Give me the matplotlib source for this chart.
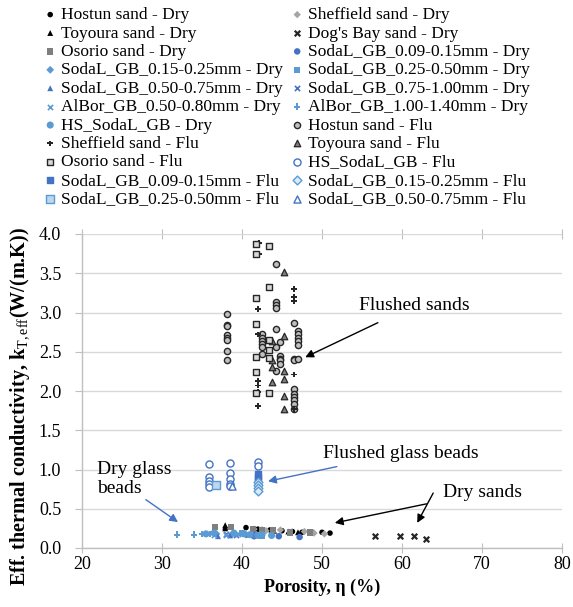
import matplotlib
matplotlib.use("Agg")
import matplotlib.pyplot as plt

plt.rcParams['font.family'] = ['Liberation Serif', 'DejaVu Serif']
plt.rcParams['mathtext.fontset'] = 'custom'
plt.rcParams['mathtext.rm'] = 'Liberation Serif'
plt.rcParams['mathtext.it'] = 'Liberation Serif:italic'
plt.rcParams['mathtext.bf'] = 'Liberation Serif:bold'

# ---------------- data ----------------
hostun_dry_x = [40.5, 42.0, 43.5, 45.0, 46.3, 47.5, 48.8, 50.0, 51.0]
hostun_dry_y = [0.26, 0.24, 0.23, 0.22, 0.21, 0.20, 0.20, 0.20, 0.19]
sheff_dry_x = [41.5, 43.0, 44.8, 47.8, 49.0, 50.3]
sheff_dry_y = [0.24, 0.22, 0.23, 0.21, 0.19, 0.18]
toyo_dry_x = [37.9, 37.9, 37.9, 42.5, 44.0, 45.8, 47.0]
toyo_dry_y = [0.29, 0.27, 0.25, 0.24, 0.22, 0.21, 0.20]
dogs_dry_x = [56.6, 59.7, 61.5, 63.0]
dogs_dry_y = [0.15, 0.15, 0.15, 0.11]
osorio_dry_x = [36.6, 38.6, 41.4, 42.5, 43.9, 46.0, 48.5]
osorio_dry_y = [0.27, 0.27, 0.24, 0.23, 0.23, 0.20, 0.20]
gb009_dry_x = [41.5, 44.6, 47.2]
gb009_dry_y = [0.15, 0.15, 0.14]
gb015_dry_x = [36.8, 38.8, 40.5, 42.3]
gb015_dry_y = [0.18, 0.18, 0.17, 0.16]
gb025_dry_x = [40.0, 41.8, 42.5]
gb025_dry_y = [0.19, 0.17, 0.16]
gb050_dry_x = [37.0, 38.5, 40.8]
gb050_dry_y = [0.15, 0.16, 0.17]
gb075_dry_x = [38.0, 39.3, 41.2]
gb075_dry_y = [0.18, 0.17, 0.18]
al050_dry_x = [36.5, 38.0, 39.5]
al050_dry_y = [0.17, 0.16, 0.18]
al100_dry_x = [31.9, 34.0, 35.0, 36.0]
al100_dry_y = [0.17, 0.17, 0.18, 0.18]
hs_dry_x = [35.5, 36.5, 39.0, 40.2, 41.0, 42.0, 42.5, 43.7]
hs_dry_y = [0.18, 0.19, 0.19, 0.18, 0.17, 0.16, 0.17, 0.16]

hostun_flu_x = [38.1]*8 + [44.3]*7 + [42.5]*6 + [44.75]*5 + [46.5]*9 + [47.0]*6
hostun_flu_y = [2.98, 2.84, 2.83, 2.71, 2.68, 2.65, 2.51, 2.40,
                3.62, 3.13, 3.10, 3.06, 2.79, 2.56, 2.26,
                2.73, 2.68, 2.64, 2.60, 2.56, 2.47,
                2.62, 2.44, 2.41, 2.39, 2.35,
                2.87, 2.41, 2.39, 2.02, 1.96, 1.92, 1.88, 1.84, 1.77,
                2.76, 2.73, 2.68, 2.64, 2.59, 2.41]
sheff_flu_x = [42.1, 42.1, 42.0, 42.0, 42.0, 42.0, 42.0, 42.0, 46.5, 46.5, 46.5, 46.5, 46.5]
sheff_flu_y = [3.88, 3.75, 3.04, 2.72, 2.13, 2.07, 1.99, 1.81, 3.30, 3.20, 3.15, 2.21, 1.77]
toyo_flu_x = [45.3, 45.3, 45.3, 45.3, 45.3, 45.3, 43.75, 43.75, 43.75, 43.75]
toyo_flu_y = [3.52, 2.70, 2.26, 2.15, 1.93, 1.77, 2.64, 2.40, 2.31, 2.11]
osorio_flu_x = [41.75]*7 + [43.4]*6
osorio_flu_y = [3.87, 3.74, 3.19, 2.85, 2.43, 2.24, 1.98,
                3.85, 3.33, 2.65, 2.52, 2.42, 1.98]
hs_flu_x = [35.9, 35.9, 35.9, 35.9, 35.9, 38.5, 38.5, 38.5, 38.5, 38.5, 42.0, 42.0]
hs_flu_y = [1.07, 0.90, 0.85, 0.81, 0.78, 1.08, 0.96, 0.88, 0.81, 0.79, 1.09, 1.05]
gb009_flu_x = [42.0, 42.0, 42.0]
gb009_flu_y = [0.94, 0.91, 0.87]
gb015_flu_x = [42.0, 42.0, 42.0, 42.0]
gb015_flu_y = [0.84, 0.80, 0.76, 0.73]
gb025_flu_x = [36.8]
gb025_flu_y = [0.80]
gb050_flu_x = [38.8]
gb050_flu_y = [0.79]

labels = ["Hostun sand - Dry", "Sheffield sand - Dry",
          "Toyoura sand - Dry", "Dog's Bay sand - Dry",
          "Osorio sand - Dry", "SodaL_GB_0.09-0.15mm - Dry",
          "SodaL_GB_0.15-0.25mm - Dry", "SodaL_GB_0.25-0.50mm - Dry",
          "SodaL_GB_0.50-0.75mm - Dry", "SodaL_GB_0.75-1.00mm - Dry",
          "AlBor_GB_0.50-0.80mm - Dry", "AlBor_GB_1.00-1.40mm - Dry",
          "HS_SodaL_GB - Dry", "Hostun sand - Flu",
          "Sheffield sand - Flu", "Toyoura sand - Flu",
          "Osorio sand - Flu", "HS_SodaL_GB - Flu",
          "SodaL_GB_0.09-0.15mm - Flu", "SodaL_GB_0.15-0.25mm - Flu",
          "SodaL_GB_0.25-0.50mm - Flu", "SodaL_GB_0.50-0.75mm - Flu"]

DB = '#4472C4'
LB = '#5B9BD5'
G = '#7F7F7F'
LG = '#A5A5A5'

series = [
    (hostun_dry_x, hostun_dry_y, dict(marker='o', s=16, c='black', edgecolors='none')),
    (sheff_dry_x, sheff_dry_y, dict(marker='D', s=14, c=LG, edgecolors='none')),
    (toyo_dry_x, toyo_dry_y, dict(marker='^', s=18, c='black', edgecolors='none')),
    (dogs_dry_x, dogs_dry_y, dict(marker='x', s=16, c='#262626', linewidths=1.6)),
    (osorio_dry_x, osorio_dry_y, dict(marker='s', s=22, c=G, edgecolors='none')),
    (gb009_dry_x, gb009_dry_y, dict(marker='o', s=22, c=DB, edgecolors='none')),
    (gb015_dry_x, gb015_dry_y, dict(marker='D', s=16, c=LB, edgecolors='none')),
    (gb025_dry_x, gb025_dry_y, dict(marker='s', s=20, c=LB, edgecolors='none')),
    (gb050_dry_x, gb050_dry_y, dict(marker='^', s=18, c=DB, edgecolors='none')),
    (gb075_dry_x, gb075_dry_y, dict(marker='x', s=14, c=DB, linewidths=1.2)),
    (al050_dry_x, al050_dry_y, dict(marker='x', s=14, c=LB, linewidths=1.2)),
    (al100_dry_x, al100_dry_y, dict(marker='P', s=22, c=LB, edgecolors='none')),
    (hs_dry_x, hs_dry_y, dict(marker='o', s=26, c=LB, edgecolors='none')),
    (hostun_flu_x, hostun_flu_y, dict(marker='o', s=20, c='#BFBFBF', edgecolors='#262626', linewidths=1.0)),
    (sheff_flu_x, sheff_flu_y, dict(marker='P', s=18, c='#262626', edgecolors='none')),
    (toyo_flu_x, toyo_flu_y, dict(marker='^', s=22, c='#7F7F7F', edgecolors='#262626', linewidths=0.9)),
    (osorio_flu_x, osorio_flu_y, dict(marker='s', s=20, c='#D9D9D9', edgecolors='#262626', linewidths=1.0)),
    (hs_flu_x, hs_flu_y, dict(marker='o', s=26, c='white', edgecolors=DB, linewidths=1.0)),
    (gb009_flu_x, gb009_flu_y, dict(marker='s', s=24, c=DB, edgecolors=DB, linewidths=1.0)),
    (gb015_flu_x, gb015_flu_y, dict(marker='D', s=20, c='#DDEBF7', edgecolors=LB, linewidths=1.0)),
    (gb025_flu_x, gb025_flu_y, dict(marker='s', s=30, c='#BDD7EE', edgecolors=LB, linewidths=1.0)),
    (gb050_flu_x, gb050_flu_y, dict(marker='^', s=26, c='white', edgecolors=DB, linewidths=1.0)),
]

fig = plt.figure(figsize=(5.73, 6.07), dpi=100)
ax = fig.add_axes([82/573, 1-548/607, (562-82)/573, (548-234)/607])

handles = []
for (xs, ys, kw), lab in zip(series, labels):
    h = ax.scatter(xs, ys, label=lab, zorder=3, **kw)
    handles.append(h)

ax.set_xlim(20, 80)
ax.set_ylim(0, 4.0)
ax.set_xticks(range(20, 81, 10))
ax.set_yticks([0.0, 0.5, 1.0, 1.5, 2.0, 2.5, 3.0, 3.5, 4.0])
ax.set_yticklabels([f"{v:.1f}" for v in [0.0, 0.5, 1.0, 1.5, 2.0, 2.5, 3.0, 3.5, 4.0]])
ax.grid(axis='y', color='#D9D9D9', linewidth=1.0, zorder=0)
ax.set_axisbelow(True)
for s in ['top', 'right']:
    ax.spines[s].set_visible(False)
for s in ['left', 'bottom']:
    ax.spines[s].set_color('#BFBFBF')
    ax.spines[s].set_linewidth(1.0)
ax.tick_params(axis='x', direction='inout', length=7, color='#BFBFBF',
               labelsize=13, pad=2, top=True)
ax.tick_params(axis='y', direction='out', length=5, color='#BFBFBF',
               labelsize=13, pad=10)

ax.set_xlabel("Porosity, η (%)", fontsize=13, fontweight='bold', labelpad=4)
ax.set_ylabel(r"Eff. thermal conductivity, k$_{\mathrm{T,eff}}$(W/(m.K))",
              fontsize=14.5, fontweight='bold')
ax.yaxis.set_label_coords(-0.105, 0.45)

# annotations
akw = dict(fontsize=14, ha='left', va='center')
ax.annotate("Flushed sands", xy=(47.9, 2.43), xytext=(54.6, 3.09),
            arrowprops=dict(arrowstyle='-|>', color='black', lw=1.0,
                            shrinkA=10, shrinkB=0, mutation_scale=12), **akw)
ax.annotate("Flushed glass beads", xy=(43.25, 0.85), xytext=(50.1, 1.21),
            arrowprops=dict(arrowstyle='-|>', color=DB, lw=1.0,
                            shrinkA=8, shrinkB=0, mutation_scale=12), **akw)
ax.annotate("Dry glass\nbeads", xy=(32.0, 0.33), xytext=(21.9, 0.88),
            arrowprops=dict(arrowstyle='-|>', color=DB, lw=1.0,
                            shrinkA=0, shrinkB=0, mutation_scale=12,
                            relpos=(0.6, 0.0)), linespacing=1.15, **akw)
ax.annotate("Dry sands", xy=(51.6, 0.32), xytext=(65.1, 0.71),
            arrowprops=dict(arrowstyle='-|>', color='black', lw=1.0,
                            shrinkA=10, shrinkB=0, mutation_scale=12), **akw)
ax.annotate("", xy=(61.9, 0.32), xytext=(63.9, 0.70),
            arrowprops=dict(arrowstyle='-|>', color='black', lw=1.0,
                            shrinkA=0, shrinkB=0, mutation_scale=12))

# legend (row-major, two columns)
lkw = dict(loc='upper left', frameon=False, fontsize=12.5, borderaxespad=0,
           borderpad=0, handlelength=0.6, handletextpad=0.3,
           labelspacing=0.13, scatterpoints=1)
fig.legend(handles[0::2], labels[0::2], bbox_to_anchor=(45/573, 1-7/607), **lkw)
fig.legend(handles[1::2], labels[1::2], bbox_to_anchor=(292/573, 1-7/607), **lkw)

fig.savefig("out.png", dpi=100)
